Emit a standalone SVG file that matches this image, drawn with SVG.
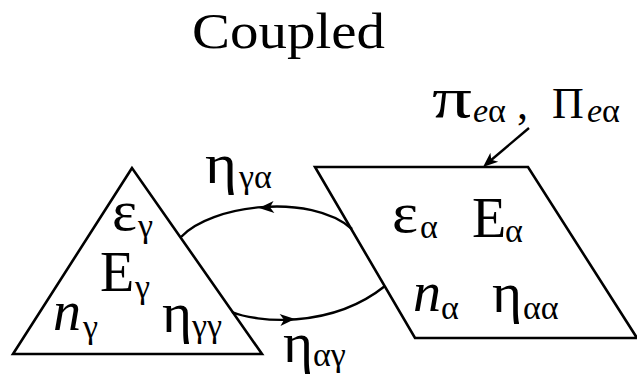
<svg xmlns="http://www.w3.org/2000/svg" xmlns:xlink="http://www.w3.org/1999/xlink" width="637" height="375" viewBox="0 0 637 375">
<style>
.shape{fill:none;stroke:#000;stroke-width:2.6;stroke-linejoin:miter}
.conn{fill:none;stroke:#000;stroke-width:2.4}
text{font-family:"Liberation Serif","DejaVu Serif","Times New Roman",serif;fill:#000}
.m{font-size:56px}
.s{font-size:34px}
.i{font-style:italic}
.lbl{font-size:44px}
</style>
<defs>
<path id="ah" d="M0,0 L-15,-6 L-11,0 L-15,6 Z" fill="#000"/>
</defs>
<rect width="637" height="375" fill="#fff"/>
<text x="192" y="48" font-size="50" textLength="193" lengthAdjust="spacingAndGlyphs">Coupled</text>
<g id="node-gamma">
<polygon class="shape" points="132,168 13,354 262,354"/>
<text class="m" x="112" y="230" textLength="25" lengthAdjust="spacingAndGlyphs">ε</text><text class="s" x="138" y="237">γ</text>
<text class="m" x="100" y="291">E</text><text class="s" x="135" y="298">γ</text>
<text class="m i" x="53" y="330">n</text><text class="s" x="83" y="338">γ</text>
<text class="m" x="162" y="332" textLength="30" lengthAdjust="spacingAndGlyphs">η</text><text class="s" x="192" y="337">γγ</text>
</g>
<g id="node-alpha">
<polygon class="shape" points="315,167 528,167 637,338 415,338"/>
<text class="m" x="392" y="232" textLength="26" lengthAdjust="spacingAndGlyphs">ε</text><text class="s" x="420" y="238">α</text>
<text class="m" x="472" y="237">E</text><text class="s" x="505" y="242">α</text>
<text class="m i" x="413" y="311">n</text><text class="s" x="441" y="319">α</text>
<text class="m" x="492" y="312" textLength="30" lengthAdjust="spacingAndGlyphs">η</text><text class="s" x="523" y="319">αα</text>
</g>
<g id="source">
<text x="432" y="117" font-size="58" textLength="40" lengthAdjust="spacingAndGlyphs">π</text><text class="s" x="473" y="122"><tspan class="i">e</tspan>α</text>
<text class="lbl" x="517" y="119">,</text>
<text class="lbl" x="552" y="118">Π</text><text class="s" x="587" y="122"><tspan class="i">e</tspan>α</text>
</g>
<g id="connectors">
<path class="conn" d="M181,237 C210,205 310,192 352,229"/>
<use xlink:href="#ah" href="#ah" transform="translate(259,208) rotate(176)"/>
<text class="m" x="205" y="183" textLength="32" lengthAdjust="spacingAndGlyphs">η</text><text class="s" x="239" y="188">γα</text>
<path class="conn" d="M232,312 C255,322 330,330 385,286"/>
<use xlink:href="#ah" href="#ah" transform="translate(295,319) rotate(-4)"/>
<text class="m" x="283" y="362" textLength="30" lengthAdjust="spacingAndGlyphs">η</text><text class="s" x="313" y="366">αγ</text>
<path class="conn" d="M529,128 L490,161"/>
<use xlink:href="#ah" href="#ah" transform="translate(483,167) rotate(139)"/>
</g>
</svg>
